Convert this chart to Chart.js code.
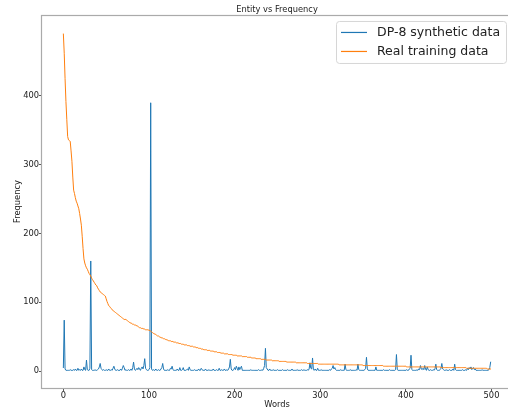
<!DOCTYPE html>
<html><head><meta charset="utf-8">
<script src="https://cdn.jsdelivr.net/npm/chart.js@4.4.0/dist/chart.umd.min.js"></script>
<style>html,body{margin:0;padding:0;background:#fff;overflow:hidden;width:508px;height:414px}
#wrap{width:520px;height:414px}</style></head>
<body><div id="wrap"><canvas id="c" width="520" height="414"></canvas></div>
<script>
const chartTitle = 'Entity vs Frequency';
const xLabel = 'Words';
const yLabel = 'Frequency';
const xTicks = [0, 100, 200, 300, 400, 500];
const yTicks = [0, 100, 200, 300, 400];
const seriesNames = ['DP-8 synthetic data', 'Real training data'];

// DP-8 synthetic data, word rank 0..499
const synthetic = [
5,74,3,1,1,1,1,1,2,1,
1,1,2,1,3,1,1,4,1,2,
1,3,1,1,6,2,1,16,2,1,
1,4,160,2,1,1,1,2,1,1,
2,3,6,11,4,2,1,2,1,1,
2,1,1,3,1,1,2,1,4,7,
3,1,1,2,1,1,1,3,1,4,
8,5,1,2,1,1,2,1,1,3,
1,5,13,3,1,2,4,2,5,3,
1,4,6,3,8,18,4,2,1,1,
2,5,390,3,1,2,1,1,3,1,
1,2,1,1,3,5,11,3,1,1,
1,1,2,1,1,4,3,7,2,1,
1,1,1,3,1,1,5,1,1,2,
5,1,1,1,2,3,1,6,2,1,
1,1,1,2,1,1,1,1,3,1,
1,4,2,1,1,1,3,1,1,1,
2,1,1,1,1,3,1,1,1,2,
1,1,4,1,1,2,1,1,3,1,
1,2,1,3,6,17,3,1,1,2,
5,2,7,4,1,6,2,5,7,1,
1,1,1,1,1,1,1,1,1,2,
1,1,1,1,1,1,1,1,2,1,
1,1,2,1,4,8,33,5,3,1,
1,3,1,1,1,2,1,1,1,1,
2,1,1,1,1,1,2,1,1,1,
1,1,2,1,1,1,1,3,1,1,
1,1,1,2,1,1,1,1,2,1,
1,2,1,1,1,2,1,3,12,4,
3,19,2,1,3,1,1,4,1,1,
1,2,1,1,1,1,1,1,1,1,
1,2,1,3,4,8,3,5,2,1,
1,1,1,1,2,1,1,1,1,10,
2,1,1,1,1,2,1,1,1,1,
1,1,2,1,10,2,1,1,1,1,
1,1,2,4,20,3,1,1,1,1,
1,1,1,1,1,6,1,1,1,1,
1,1,1,1,2,1,1,1,1,1,
1,2,1,1,1,1,1,1,2,24,
2,1,1,1,1,1,1,1,1,1,
1,2,1,1,3,4,23,2,1,1,
1,1,1,2,1,3,2,8,3,2,
4,2,8,3,1,6,2,1,1,2,
1,1,2,1,3,10,2,1,1,1,
2,4,11,3,2,1,1,2,1,1,
1,2,1,1,1,3,1,10,2,1,
1,1,1,1,1,1,2,1,1,1,
2,1,4,2,5,3,6,2,4,5,
2,3,1,1,1,1,1,1,1,2,
1,1,1,1,1,1,1,2,5,13
];

// Real training data, word rank 0..499
const real = [
490,462,425,392,366,341,336,335,334,320,
305,282,263,258,252,247,244,240,236,229,
221,212,196,178,163,157,153,150,148,145,
142,140,138,135,133,131,129,127,125,124,
121,119,117,115,114,113,112,111,110,109,
105,101,98,95,94,92,91,89,88,87,
86,85,84,83,82,81,80,79,78,77,
76,75,75,75,74,73,72,71,70,70,
69,68,68,67,67,66,66,65,64,63,
63,62,62,62,61,61,60,60,60,60,
59,59,58,57,56,55,54,54,53,52,
51,51,50,49,49,48,48,47,47,46,
46,45,45,44,44,44,43,43,43,42,
42,42,41,41,41,40,40,40,39,39,
39,38,38,38,38,37,37,37,36,36,
36,36,35,35,35,34,34,34,33,33,
33,32,32,32,31,31,31,31,30,30,
30,30,29,29,29,29,28,28,28,28,
27,27,27,27,26,26,26,26,25,25,
25,25,25,24,24,24,24,24,23,23,
23,23,23,22,22,22,22,22,22,21,
21,21,21,21,21,20,20,20,20,20,
19,19,19,19,19,18,18,18,18,18,
18,17,17,17,17,17,17,16,16,16,
16,16,16,16,15,15,15,15,15,15,
15,15,14,14,14,14,14,14,14,14,
14,13,13,13,13,13,13,13,13,13,
13,13,12,12,12,12,12,12,12,12,
12,12,12,12,12,11,11,11,11,11,
11,11,11,11,11,11,11,11,10,10,
10,10,10,10,10,10,10,10,10,10,
10,10,10,10,10,10,10,10,10,10,
10,10,9,9,9,9,9,9,9,9,
9,9,9,9,9,9,9,9,9,9,
9,9,9,9,9,9,9,9,9,9,
8,8,8,8,8,8,8,8,8,8,
8,8,8,8,8,8,8,8,8,8,
8,8,8,8,7,7,7,7,7,7,
7,7,7,7,7,7,7,7,7,7,
7,7,7,7,7,7,7,7,7,7,
7,6,6,6,6,6,6,6,6,6,
6,6,6,6,6,6,6,6,6,6,
6,6,6,6,6,6,6,6,6,6,
6,6,6,6,6,6,6,6,6,6,
6,5,5,5,5,5,5,5,5,5,
5,5,5,5,5,5,5,5,5,5,
5,5,5,5,5,5,5,5,5,5,
5,4,4,4,4,4,4,4,4,4,
4,4,4,4,4,4,4,4,4,4,
4,4,4,4,4,3,3,3,3,3
];

if (synthetic.length !== 500 || real.length !== 500) {
  throw new Error('lengths ' + synthetic.length + ' ' + real.length);
}

const FONT = 'DejaVu Sans';
const TXT = '#222222';

const spines = {
  id: 'spines',
  afterDatasetsDraw(chart) {
    const {ctx, chartArea: a} = chart;
    ctx.save();
    ctx.strokeStyle = '#aaaaaa';
    ctx.lineWidth = 1.2;
    ctx.strokeRect(Math.round(a.left) - 0.5, Math.round(a.top) + 0.5, Math.round(a.right - a.left), Math.round(a.bottom - a.top));
    ctx.restore();
  }
};

const legendBox = {
  id: 'legendBox',
  afterDraw(chart) {
    const {ctx, chartArea: a} = chart;
    const bx = a.left + 294, by = a.top + 6, bw = 170, bh = 42;
    ctx.save();
    ctx.fillStyle = 'rgba(255,255,255,0.8)';
    ctx.strokeStyle = '#d6d6d6';
    ctx.lineWidth = 1;
    ctx.beginPath();
    ctx.roundRect(bx + 0.5, by + 0.5, bw, bh, 3);
    ctx.fill();
    ctx.stroke();
    chart.data.datasets.forEach((ds, i) => {
      const yy = by + 11.5 + i * 19;
      ctx.strokeStyle = ds.borderColor;
      ctx.lineWidth = 1.2;
      ctx.setLineDash([]);
      ctx.beginPath();
      ctx.moveTo(bx + 5, yy);
      ctx.lineTo(bx + 31, yy);
      ctx.stroke();
      ctx.fillStyle = TXT;
      ctx.font = '12.5px "' + FONT + '"';
      ctx.textBaseline = 'middle';
      ctx.textAlign = 'left';
      ctx.fillText(ds.label, bx + 41, yy);
    });
    ctx.restore();
  }
};

const tickFont = {family: FONT, size: 8.3};
// a solid "dash" pattern keeps Chart.js on its exact (non pixel-binned) path renderer
const solid = [100000, 0];

new Chart(document.getElementById('c'), {
  type: 'line',
  data: {
    datasets: [
      {label: seriesNames[0], data: synthetic.map((v, i) => ({x: i, y: v})),
       borderColor: '#1f77b4', borderWidth: 1, pointRadius: 0, tension: 0, fill: false, order: 2,
       borderJoinStyle: 'round', borderCapStyle: 'round', borderDash: solid},
      {label: seriesNames[1], data: real.map((v, i) => ({x: i, y: v})),
       borderColor: '#ff7f0e', borderWidth: 1, pointRadius: 0, tension: 0, fill: false, order: 1,
       borderJoinStyle: 'round', borderCapStyle: 'round', borderDash: solid}
    ]
  },
  options: {
    responsive: false,
    animation: false,
    devicePixelRatio: 1,
    layout: {padding: {top: 0, left: 0, right: 8, bottom: 0}},
    plugins: {
      legend: {display: false},
      tooltip: {enabled: false},
      title: {display: true, text: chartTitle, fullSize: false, color: TXT,
              font: {family: FONT, size: 8.3, weight: 'normal'}, padding: {top: 5, bottom: 0}}
    },
    scales: {
      x: {
        type: 'linear', min: -24.95, max: 523.95,
        afterBuildTicks: s => { s.ticks = xTicks.map(v => ({value: v})); },
        afterFit: s => { s.height = 26; },
        grid: {display: true, drawOnChartArea: false, drawTicks: true, tickLength: 3, tickColor: '#555'},
        border: {display: false},
        ticks: {font: tickFont, color: TXT, padding: 0, maxRotation: 0, autoSkip: false},
        title: {display: true, text: xLabel, color: TXT, font: tickFont, padding: {top: 0, bottom: 4}}
      },
      y: {
        type: 'linear', min: -24.65, max: 517.65,
        afterBuildTicks: s => { s.ticks = yTicks.map(v => ({value: v})); },
        afterFit: s => { s.width = 42; },
        grid: {display: true, drawOnChartArea: false, drawTicks: true, tickLength: 3, tickColor: '#555'},
        border: {display: false},
        ticks: {font: tickFont, color: TXT, padding: 0, autoSkip: false},
        title: {display: true, text: yLabel, color: TXT, font: tickFont, padding: {top: 13, bottom: 0}}
      }
    }
  },
  plugins: [spines, legendBox]
});
</script>
</body></html>
